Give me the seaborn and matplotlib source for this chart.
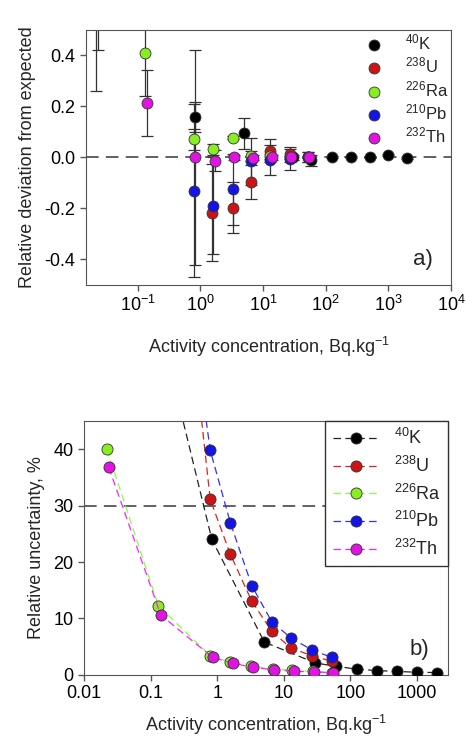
import numpy as np
import pandas as pd
import seaborn as sns
import matplotlib
import matplotlib.pyplot as plt
from matplotlib.ticker import FixedLocator, FuncFormatter, NullLocator

# ---------------- data ----------------
isotopes = ['$^{40}$K', '$^{238}$U', '$^{226}$Ra', '$^{210}$Pb', '$^{232}$Th']

# panel a: relative deviation from expected (value, error bar)
k_a_x = [0.83, 5.0, 30, 58, 125, 250, 500, 1000, 2000]
k_a_dev = [0.158, 0.094, 0.0, -0.012, 0.0, 0.0, 0.0, 0.009, -0.002]
k_a_err = [0.06, 0.062, 0.01, 0.02, 0.004, 0.004, 0.003, 0.003, 0.003]

u_a_x = [1.55, 3.3, 6.5, 13, 26.5, 52]
u_a_dev = [-0.217, -0.197, -0.097, 0.025, 0.012, 0.0]
u_a_err = [0.19, 0.10, 0.068, 0.045, 0.03, 0.02]

ra_a_x = [0.022, 0.13, 0.78, 1.57, 3.27, 6.4, 13, 26.5, 52]
ra_a_dev = [0.70, 0.41, 0.07, 0.031, 0.077, 0.005, 0.005, 0.0, 0.0]
ra_a_err = [0.44, 0.17, 0.04, 0.02, 0.006, 0.02, 0.01, 0.005, 0.004]

pb_a_x = [0.78, 1.57, 3.3, 6.5, 13, 26.5, 52]
pb_a_dev = [-0.13, -0.19, -0.125, -0.016, -0.011, -0.008, 0.0]
pb_a_err = [0.34, 0.19, 0.14, 0.093, 0.06, 0.04, 0.02]

th_a_x = [0.0235, 0.142, 0.83, 1.69, 3.4, 6.8, 14, 28, 55]
th_a_dev = [0.68, 0.214, 0.0, -0.013, 0.0, -0.002, 0.0, 0.0, 0.0]
th_a_err = [0.26, 0.13, 0.42, 0.04, 0.01, 0.01, 0.01, 0.005, 0.004]

# panel b: relative uncertainty, %
k_b_x = [0.21, 0.83, 5.1, 29.8, 61.5, 125, 250, 500, 1000, 2000]
k_b_unc = [53, 24.0, 5.8, 2.1, 1.5, 1.0, 0.75, 0.6, 0.45, 0.4]

u_b_x = [0.39, 0.785, 1.57, 3.28, 6.6, 12.9, 26.5, 52]
u_b_unc = [64, 31.1, 21.4, 13.1, 7.7, 4.7, 3.4, 2.4]

ra_b_x = [0.022, 0.131, 0.785, 1.57, 3.2, 6.9, 13.2, 27, 52]
ra_b_unc = [40, 12.2, 3.4, 2.25, 1.5, 1.0, 0.8, 0.6, 0.4]

pb_b_x = [0.39, 0.785, 1.57, 3.3, 6.6, 12.9, 26.5, 52]
pb_b_unc = [66, 39.8, 27.0, 15.8, 9.4, 6.5, 4.4, 3.1]

th_b_x = [0.0235, 0.142, 0.85, 1.7, 3.5, 7.2, 14, 28, 55]
th_b_unc = [36.8, 10.6, 3.1, 2.05, 1.3, 0.9, 0.65, 0.5, 0.4]

a_x = [k_a_x, u_a_x, ra_a_x, pb_a_x, th_a_x]
a_dev = [k_a_dev, u_a_dev, ra_a_dev, pb_a_dev, th_a_dev]
a_err = [k_a_err, u_a_err, ra_a_err, pb_a_err, th_a_err]
b_x = [k_b_x, u_b_x, ra_b_x, pb_b_x, th_b_x]
b_unc = [k_b_unc, u_b_unc, ra_b_unc, pb_b_unc, th_b_unc]

marker_colors = ['#000000', '#cc1414', '#88ee22', '#1414e6', '#e014e0']
line_colors = ['#222222', '#e02020', '#88ff44', '#3030ff', '#ff20ff']

# ---------------- style ----------------
sns.set_style('ticks')
plt.rcParams['font.family'] = ['Liberation Sans', 'DejaVu Sans']
plt.rcParams['mathtext.default'] = 'regular'
plt.rcParams['axes.unicode_minus'] = False
plt.rcParams['axes.edgecolor'] = '#555555'
plt.rcParams['xtick.color'] = '#555555'
plt.rcParams['ytick.color'] = '#555555'
plt.rcParams['xtick.labelcolor'] = 'black'
plt.rcParams['ytick.labelcolor'] = 'black'

fig = plt.figure(figsize=(4.67, 7.44), dpi=100)
ax1 = fig.add_axes([0.184, 0.617, 0.782, 0.343])
ax2 = fig.add_axes([0.180, 0.093, 0.779, 0.341])

# ---------------- panel a ----------------
ax1.set_xscale('log')
ax1.axhline(0, color='#555555', linewidth=1.3, dashes=(7, 4), zorder=1)

for x, dev, err in zip(a_x, a_dev, a_err):
    ax1.errorbar(x, dev, yerr=err, fmt='none', ecolor='#333333',
                 elinewidth=0.9, capsize=4, capthick=0.9, zorder=2)

for name, x, dev, mc in zip(isotopes, a_x, a_dev, marker_colors):
    sns.scatterplot(x=x, y=dev, ax=ax1, color=mc, s=62, edgecolor='#333333',
                    linewidth=0.6, label=name, zorder=3)

ax1.set_xlim(0.015, 1e4)
ax1.set_ylim(-0.5, 0.5)
ax1.xaxis.set_major_locator(FixedLocator([1e-1, 1, 1e1, 1e2, 1e3, 1e4]))
ax1.xaxis.set_minor_locator(NullLocator())
ax1.set_yticks([-0.4, -0.2, 0.0, 0.2, 0.4])
ax1.yaxis.set_major_formatter(FuncFormatter(lambda v, _: f'{v:.1f}'))
ax1.tick_params(labelsize=13, length=4, width=1)
ax1.set_xlabel('Activity concentration, Bq.kg$^{-1}$', fontsize=13, labelpad=14)
ax1.set_ylabel('Relative deviation from expected', fontsize=13, labelpad=6)
ax1.text(0.95, 0.08, 'a)', transform=ax1.transAxes, fontsize=16, ha='right')
ax1.legend(loc='upper right', bbox_to_anchor=(1.012, 1.015), frameon=False,
           fontsize=12, handletextpad=0.9, labelspacing=0.2,
           borderaxespad=0.0, markerscale=1.0)

# ---------------- panel b ----------------
ax2.set_xscale('log')
ax2.axhline(30, color='#555555', linewidth=1.3, dashes=(7, 4), zorder=1)

for name, x, unc, mc, lc in zip(isotopes, b_x, b_unc, marker_colors, line_colors):
    sns.lineplot(x=x, y=unc, ax=ax2, color=lc, linewidth=0.9, dashes=False,
                 linestyle=(0, (6, 3.5)), marker='o', markersize=8,
                 markerfacecolor=mc, markeredgecolor='#333333',
                 markeredgewidth=0.6, label=name, zorder=3)

ax2.set_xlim(0.01, 2900)
ax2.set_ylim(0, 45)
ax2.xaxis.set_major_locator(FixedLocator([0.01, 0.1, 1, 10, 100, 1000]))
ax2.xaxis.set_minor_locator(NullLocator())
ax2.xaxis.set_major_formatter(FuncFormatter(lambda v, _: f'{v:g}'))
ax2.set_yticks([0, 10, 20, 30, 40])
ax2.tick_params(labelsize=13, length=4, width=1)
ax2.set_xlabel('Activity concentration, Bq.kg$^{-1}$', fontsize=13, labelpad=8)
ax2.set_ylabel('Relative uncertainty, %', fontsize=13, labelpad=6)
ax2.text(0.95, 0.08, 'b)', transform=ax2.transAxes, fontsize=16, ha='right')
leg = ax2.legend(loc='upper right', fontsize=13, handlelength=2.6,
                 handletextpad=0.8, labelspacing=0.42, borderaxespad=0.0,
                 fancybox=False, framealpha=1, edgecolor='#333333')
leg.get_frame().set_linewidth(1.0)

fig.savefig('out.png', dpi=100)
